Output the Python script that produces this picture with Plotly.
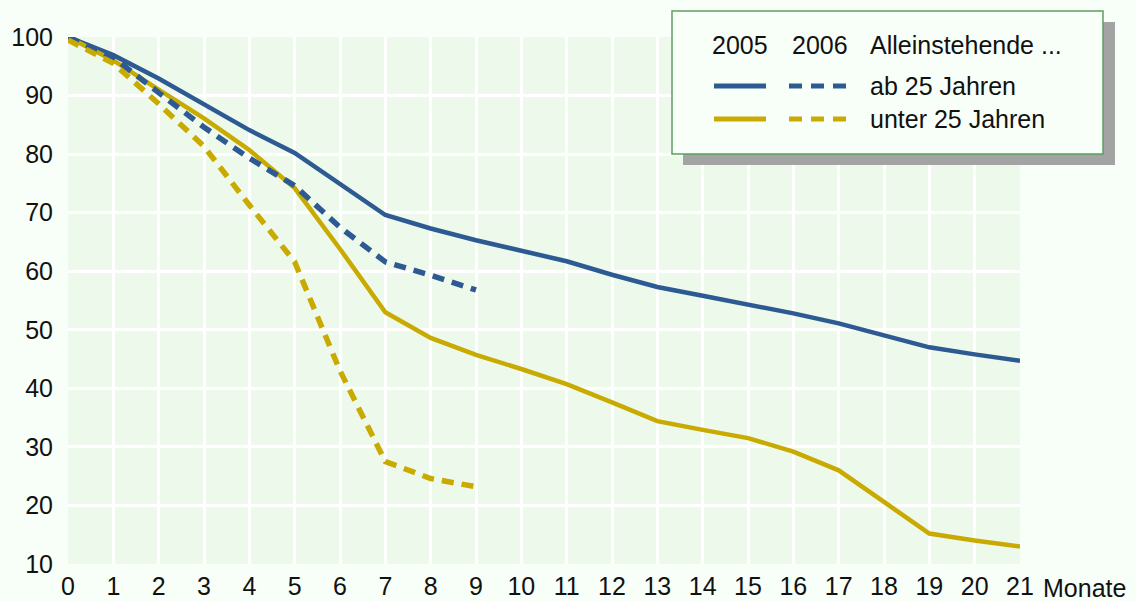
import plotly.graph_objects as go

months = list(range(0, 22))
months_2006 = list(range(0, 10))

ab25_2005 = [100, 96.9, 92.9, 88.4, 84.1, 80.2, 75.0, 69.6, 67.3, 65.3, 63.5, 61.7,
             59.4, 57.3, 55.8, 54.3, 52.8, 51.1, 49.0, 47.0, 45.8, 44.7]
unter25_2005 = [100, 96.0, 91.0, 86.1, 80.7, 74.2, 63.8, 53.0, 48.6, 45.7, 43.3, 40.7,
                37.6, 34.4, 32.9, 31.5, 29.2, 26.0, 20.6, 15.2, 14.0, 13.0]
ab25_2006 = [100, 96.5, 90.5, 84.6, 79.3, 74.6, 67.5, 61.6, 59.3, 56.8]
unter25_2006 = [99.5, 95.5, 88.6, 81.3, 71.3, 61.6, 43.0, 27.5, 24.6, 23.2]

legend_years = ["2005", "2006"]
legend_header = "Alleinstehende ..."
legend_labels = ["ab 25 Jahren", "unter 25 Jahren"]
x_unit = "Monate"

BLUE = "#2d5a93"
GOLD = "#c8aa00"
FONT = "Liberation Sans, Arial, sans-serif"
FS = 25
PAPER = "#f8fff8"

W, H = 1136, 601
ML, MR, MT, MB = 68, 116, 37, 37
PW = W - ML - MR
PH = H - MT - MB


def px(x):
    return (x - ML) / PW


def py(y):
    return (H - MB - y) / PH


fig = go.Figure()
fig.add_trace(go.Scatter(x=months, y=ab25_2005, mode="lines",
                         line=dict(color=BLUE, width=4.5), showlegend=False))
fig.add_trace(go.Scatter(x=months, y=unter25_2005, mode="lines",
                         line=dict(color=GOLD, width=4.5), showlegend=False))
fig.add_trace(go.Scatter(x=months_2006, y=ab25_2006, mode="lines",
                         line=dict(color=BLUE, width=5.5, dash="12px,8px"), showlegend=False))
fig.add_trace(go.Scatter(x=months_2006, y=unter25_2006, mode="lines",
                         line=dict(color=GOLD, width=5.5, dash="12px,8px"), showlegend=False))

shapes = []
# legend shadow and box
shapes.append(dict(type="rect", xref="paper", yref="paper",
                   x0=px(683), x1=px(1115), y0=py(165), y1=py(22),
                   fillcolor="#a3a3a3", line=dict(width=0), layer="above"))
shapes.append(dict(type="rect", xref="paper", yref="paper",
                   x0=px(672), x1=px(1103), y0=py(154), y1=py(11),
                   fillcolor=PAPER, line=dict(color="#5e9e62", width=1.5), layer="above"))
rows_y = [86, 119]
colors = [BLUE, GOLD]
for ry, c in zip(rows_y, colors):
    shapes.append(dict(type="line", xref="paper", yref="paper",
                       x0=px(714), x1=px(766), y0=py(ry), y1=py(ry),
                       line=dict(color=c, width=5), layer="above"))
    for dx0 in (789, 811, 833):
        shapes.append(dict(type="line", xref="paper", yref="paper",
                           x0=px(dx0), x1=px(dx0 + 13), y0=py(ry), y1=py(ry),
                           line=dict(color=c, width=5), layer="above"))

annotations = []
for txt, cx in zip(legend_years, [740, 820]):
    annotations.append(dict(x=px(cx), y=py(45), xref="paper", yref="paper",
                            text=txt, showarrow=False, xanchor="center", yanchor="middle",
                            font=dict(size=FS, color="#111111", family=FONT)))
annotations.append(dict(x=px(868), y=py(45), xref="paper", yref="paper",
                        text=legend_header, showarrow=False, xanchor="left", yanchor="middle",
                        font=dict(size=FS, color="#111111", family=FONT)))
for txt, ry in zip(legend_labels, rows_y):
    annotations.append(dict(x=px(868), y=py(ry), xref="paper", yref="paper",
                            text=txt, showarrow=False, xanchor="left", yanchor="middle",
                            font=dict(size=FS, color="#111111", family=FONT)))
annotations.append(dict(x=px(1041), y=py(588), xref="paper", yref="paper",
                        text=x_unit, showarrow=False, xanchor="left", yanchor="middle",
                        font=dict(size=FS, color="#111111", family=FONT)))

fig.update_layout(
    width=W, height=H,
    margin=dict(l=ML, r=MR, t=MT, b=MB, pad=0, autoexpand=False),
    paper_bgcolor=PAPER,
    plot_bgcolor="#edf9eb",
    font=dict(family=FONT, size=FS, color="#111111"),
    shapes=shapes,
    annotations=annotations,
    xaxis=dict(range=[0, 21], tickmode="linear", tick0=0, dtick=1, automargin=False,
               showgrid=True, gridcolor="#ffffff", gridwidth=3,
               zeroline=False, showline=False, ticks="", ticklabelstandoff=5,
               tickfont=dict(size=FS, family=FONT, color="#111111")),
    yaxis=dict(range=[10, 100], tickmode="linear", tick0=10, dtick=10, automargin=False,
               showgrid=True, gridcolor="#ffffff", gridwidth=3,
               zeroline=False, showline=False, ticks="", ticklabelstandoff=14,
               tickfont=dict(size=FS, family=FONT, color="#111111")),
)

fig.write_html(
    "out.html",
    config={"displayModeBar": False, "staticPlot": True},
    post_script="document.body.style.margin='0';document.body.style.padding='0';"
                "document.body.style.background='" + PAPER + "';"
                "document.documentElement.style.overflow='hidden';",
)
